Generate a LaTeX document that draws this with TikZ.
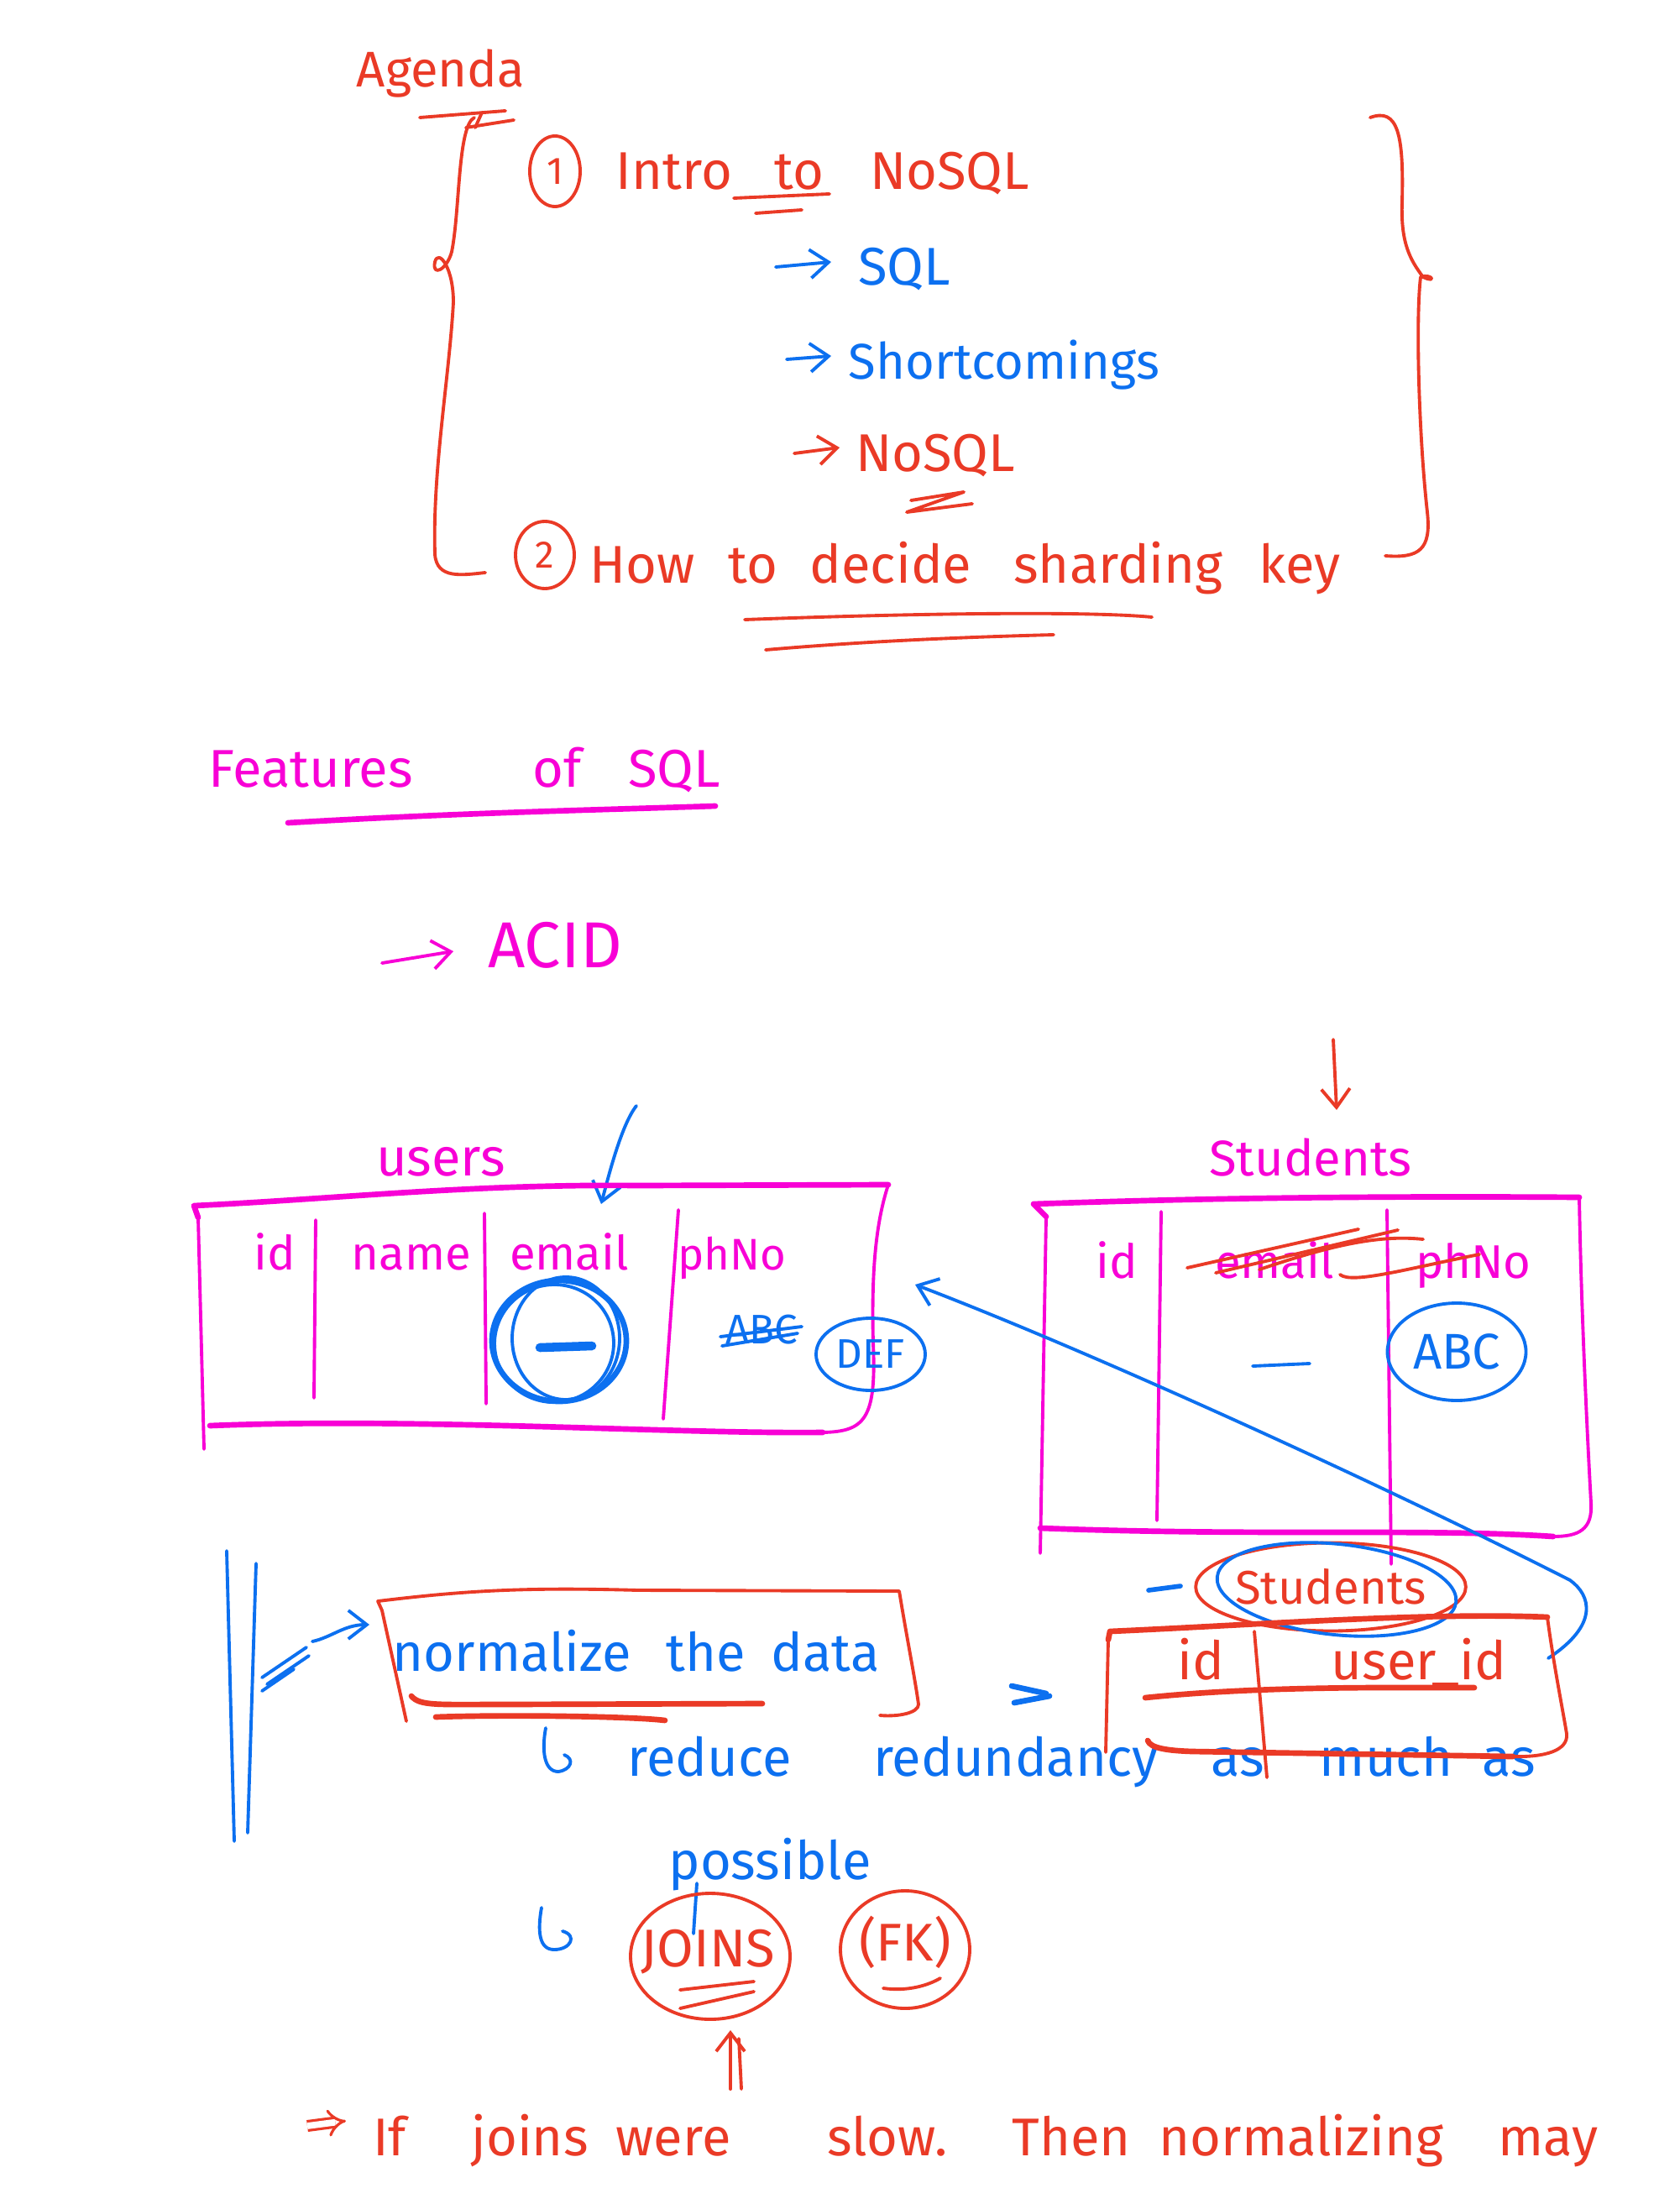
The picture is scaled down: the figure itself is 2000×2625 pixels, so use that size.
\documentclass[tikz,border=0pt]{standalone}
\usepackage{fontspec}
\setmainfont{Fira Sans}
\usetikzlibrary{arrows.meta,shapes.geometric}
\definecolor{inkred}{RGB}{234,58,38}
\definecolor{inkblue}{RGB}{12,112,240}
\definecolor{inkpink}{RGB}{248,0,214}

\begin{document}
\begin{tikzpicture}[x=0.1mm,y=-0.1mm,
  pen/.style={line width=1.1pt,line cap=round,line join=round},
  thick pen/.style={line width=1.9pt,line cap=round,line join=round},
  word/.style={anchor=base,inner sep=0pt,font=\fontsize{18}{22}\selectfont},
  small word/.style={word,font=\fontsize{16}{19}\selectfont},
  big word/.style={word,font=\fontsize{22}{26}\selectfont},
  barb/.style={-{Straight Barb[length=2.2mm,width=3.4mm]}},
  ring/.style={ellipse,draw,pen,inner sep=0pt},
]
\useasboundingbox (0,0) rectangle (2000,2625);
\fill[white] (0,0) rectangle (2000,2625);

% ---------------- Agenda ----------------
\node[word,text=inkred,font=\fontsize{17}{20}\selectfont] (agenda) at (525,104) {Agenda};
\draw[pen,inkred] (500,140) -- (602,132);
\draw[pen,inkred] (555,152) -- (612,143);
\draw[pen,inkred] (574,134) -- (566,152);

% left brace
\draw[pen,inkred] (565,140) .. controls (545,150) and (548,250) .. (538,300)
  .. controls (532,322) and (514,330) .. (518,312)
  .. controls (522,296) and (540,318) .. (540,360)
  .. controls (535,450) and (515,560) .. (518,660)
  .. controls (520,690) and (550,685) .. (578,682);
% right brace
\draw[pen,inkred] (1632,140) .. controls (1665,128) and (1672,160) .. (1670,240)
  .. controls (1668,290) and (1680,310) .. (1695,330)
  .. controls (1712,338) and (1705,325) .. (1692,330)
  .. controls (1686,380) and (1690,520) .. (1700,610)
  .. controls (1705,655) and (1690,665) .. (1650,662);

\node[ring,draw=inkred,text=inkred,font=\fontsize{13}{15}\selectfont,
  minimum width=6mm,minimum height=8.4mm] (one) at (661,204) {1};
\node[word,text=inkred] (intro) at (803,226) {Intro};
\node[word,text=inkred] (to) at (952,226) {to};
\node[word,text=inkred] (nosql) at (1131,226) {NoSQL};
\draw[pen,inkred] (874,236) -- (988,231);
\draw[pen,inkred] (900,254) -- (955,250);

\coordinate (a1s) at (924,318); \coordinate (a1e) at (990,312);
\draw[pen,inkblue,barb] (a1s) -- (a1e);
\node[word,text=inkblue] (sql) at (1077,340) {SQL};

\coordinate (a2s) at (937,428); \coordinate (a2e) at (990,424);
\draw[pen,inkblue,barb] (a2s) -- (a2e);
\node[word,text=inkblue,font=\fontsize{17}{20}\selectfont] (short) at (1196,452) {Shortcomings};

\coordinate (a3s) at (946,540); \coordinate (a3e) at (1000,533);
\draw[pen,inkred,barb] (a3s) -- (a3e);
\node[word,text=inkred] (nosqlb) at (1114,562) {NoSQL};
\draw[pen,inkred] (1085,596) -- (1148,586) -- (1080,610) -- (1158,600);

\node[ring,draw=inkred,text=inkred,font=\fontsize{13}{15}\selectfont,
  minimum width=7mm,minimum height=8mm] (two) at (649,661) {2};
\node[word,text=inkred] (how) at (765,694) {How};
\node[word,text=inkred] (tob) at (897,694) {to};
\node[word,text=inkred] (decide) at (1061,694) {decide};
\node[word,text=inkred] (sharding) at (1332,694) {sharding};
\node[word,text=inkred] (key) at (1548,694) {key};
\draw[pen,inkred] (887,738) .. controls (1100,730) and (1300,728) .. (1372,735);
\draw[pen,inkred] (912,774) .. controls (1050,762) and (1180,758) .. (1255,756);

% ---------------- Features of SQL ----------------
\node[word,text=inkpink] (features) at (370,937) {Features};
\node[word,text=inkpink] (of) at (664,937) {of};
\node[word,text=inkpink] (sqlb) at (803,937) {SQL};
\draw[thick pen,inkpink] (343,980) .. controls (550,968) and (700,965) .. (852,960);

\coordinate (a4s) at (455,1147); \coordinate (a4e) at (540,1133);
\draw[pen,inkpink,barb] (a4s) -- (a4e);
\node[big word,text=inkpink] (acid) at (661,1152) {ACID};

\coordinate (ra1) at (1588,1238); \coordinate (ra2) at (1592,1322);
\draw[pen,inkred,barb] (ra1) -- (ra2);

% ---------------- users table ----------------
\node[word,text=inkpink] (users) at (525,1400) {users};
\coordinate (ua) at (758,1317); \coordinate (ub) at (716,1434);
\draw[pen,inkblue,barb] (ua) .. controls (740,1340) and (725,1400) .. (ub);

\draw[thick pen,inkpink] (236,1450) -- (231,1436) .. controls (400,1428) and (560,1410) .. (760,1412) -- (1058,1411);
\draw[pen,inkpink] (1058,1411) .. controls (1042,1460) and (1038,1520) .. (1040,1600)
  .. controls (1044,1690) and (1030,1705) .. (980,1706);
\draw[thick pen,inkpink] (250,1698) .. controls (500,1688) and (800,1708) .. (980,1706);
\draw[pen,inkpink] (236,1450) -- (243,1726);
\draw[pen,inkpink] (376,1453) -- (374,1665);
\draw[pen,inkpink] (577,1445) -- (579,1672);
\draw[pen,inkpink] (808,1441) -- (790,1690);
\node[small word,text=inkpink] (uid) at (327,1512) {id};
\node[small word,text=inkpink] (uname) at (490,1512) {name};
\node[small word,text=inkpink] (uemail) at (678,1512) {email};
\node[small word,text=inkpink,font=\fontsize{15}{18}\selectfont] (uph) at (872,1512) {phNo};

\draw[thick pen,inkblue] (666,1597) ellipse [x radius=8mm,y radius=7.2mm];
\draw[pen,inkblue,rotate around={10:(660,1600)}] (660,1600) ellipse [x radius=7.1mm,y radius=7mm];
\draw[pen,inkblue] (674,1594) ellipse [x radius=6.4mm,y radius=7.3mm];
\draw[line width=3pt,inkblue,line cap=round] (643,1605) -- (705,1603);

\node[small word,text=inkblue,font=\fontsize{14}{16}\selectfont] (abcold) at (907,1600) {ABC};
\draw[pen,inkblue] (858,1592) -- (955,1580);
\draw[pen,inkblue] (860,1603) -- (950,1588);
\node[ring,draw=inkblue,text=inkblue,font=\fontsize{14}{16}\selectfont,
  minimum width=13mm,minimum height=8.6mm] (def) at (1037,1613) {DEF};

% ---------------- Students table ----------------
\node[small word,text=inkpink,font=\fontsize{17}{20}\selectfont] (students) at (1561,1400) {Students};
\draw[thick pen,inkpink] (1246,1449) -- (1231,1434) .. controls (1400,1428) and (1600,1424) .. (1881,1426);
\draw[pen,inkpink] (1881,1426) .. controls (1883,1550) and (1890,1700) .. (1895,1790)
  .. controls (1897,1822) and (1880,1830) .. (1850,1830);
\draw[thick pen,inkpink] (1239,1820) .. controls (1500,1830) and (1700,1820) .. (1850,1830);
\draw[pen,inkpink] (1246,1449) -- (1239,1850);
\draw[pen,inkpink] (1383,1443) -- (1378,1811);
\draw[pen,inkpink] (1652,1441) -- (1657,1863);
\node[small word,text=inkpink] (sid) at (1330,1522) {id};
\node[small word,text=inkpink] (semail) at (1518,1522) {email};
\node[small word,text=inkpink] (sph) at (1755,1522) {phNo};
\draw[pen,inkred] (1414,1510) -- (1618,1464);
\draw[pen,inkred] (1448,1516) -- (1665,1465);
\draw[pen,inkred] (1500,1512) .. controls (1580,1485) and (1640,1470) .. (1695,1476);
\draw[pen,inkred] (1596,1518) .. controls (1610,1530) and (1680,1510) .. (1762,1494);
\draw[pen,inkblue] (1492,1627) -- (1560,1624);
\node[ring,draw=inkblue,text=inkblue,font=\fontsize{17}{20}\selectfont,
  minimum width=16.5mm,minimum height=11.6mm] (abc) at (1735,1610) {ABC};

% long blue connector
\coordinate (lt) at (1844,1975); \coordinate (lh) at (1090,1530);
\draw[pen,inkblue,barb] (lt) .. controls (1905,1935) and (1895,1900) .. (1870,1882)
  .. controls (1650,1770) and (1300,1610) .. (lh);

% ---------------- normalize ----------------
\draw[pen,inkblue] (270,1847) -- (279,2193);
\draw[pen,inkblue] (305,1862) -- (295,2183);
\draw[pen,inkblue] (312,1998) -- (365,1962);
\draw[pen,inkblue] (318,2006) -- (368,1972);
\draw[pen,inkblue] (312,2014) -- (350,1988);
\coordinate (na) at (372,1955); \coordinate (nb) at (440,1935);
\draw[pen,inkblue,barb] (na) .. controls (395,1950) and (410,1935) .. (nb);

\draw[pen,inkred] (455,1918) -- (450,1907) .. controls (550,1895) and (620,1890) .. (760,1894) -- (1071,1895)
  .. controls (1080,1950) and (1090,2000) .. (1094,2030)
  .. controls (1094,2040) and (1070,2045) .. (1048,2043);
\draw[pen,inkred] (455,1918) -- (484,2050);
\node[word,text=inkblue] (normalize) at (610,1990) {normalize};
\node[word,text=inkblue] (the) at (841,1990) {the};
\node[word,text=inkblue] (data) at (983,1990) {data};
\draw[thick pen,inkred] (490,2020) .. controls (500,2032) and (520,2030) .. (600,2030) -- (908,2029);
\draw[thick pen,inkred] (519,2045) .. controls (600,2042) and (750,2044) .. (792,2049);

\draw[pen,inkblue] (650,2058) .. controls (645,2085) and (648,2110) .. (665,2110)
  .. controls (680,2108) and (685,2095) .. (672,2090);
\node[word,text=inkblue] (reduce) at (845,2115) {reduce};
\node[word,text=inkblue] (redundancy) at (1210,2115) {redundancy};
\node[word,text=inkblue] (as) at (1474,2115) {as};
\node[word,text=inkblue] (much) at (1651,2115) {much};
\node[word,text=inkblue] (asb) at (1797,2115) {as};

% ---------------- Students (id, user_id) ----------------
\draw[pen,inkblue,line width=1.6pt] (1368,1894) -- (1406,1889);
\node[ring,draw=inkred,text=inkred,font=\fontsize{16}{19}\selectfont,
  minimum width=30mm,minimum height=10.5mm] (studb) at (1585,1890) {Students};
\draw[pen,inkblue,rotate around={-6:(1592,1893)}] (1592,1893) ellipse [x radius=14.3mm,y radius=5.4mm];

\draw[thick pen,inkblue] (1205,2008) -- (1246,2017);
\draw[thick pen,inkblue] (1208,2028) -- (1250,2020);

\draw[thick pen,inkred] (1320,1953) -- (1322,1943) .. controls (1500,1935) and (1700,1920) .. (1843,1926);
\draw[pen,inkred] (1843,1926) .. controls (1850,1980) and (1862,2040) .. (1866,2065)
  .. controls (1868,2085) and (1840,2093) .. (1802,2092);
\draw[thick pen,inkred] (1367,2073) .. controls (1370,2082) and (1390,2085) .. (1420,2086) -- (1802,2092);
\draw[pen,inkred] (1320,1953) -- (1317,2087);
\draw[pen,inkred] (1494,1943) -- (1509,2117);
\node[word,text=inkred] (tid) at (1430,2000) {id};
\node[word,text=inkred] (tuid) at (1690,2000) {user\_id};
\draw[thick pen,inkred] (1364,2022) .. controls (1500,2008) and (1650,2010) .. (1756,2010);

% ---------------- JOINS / FK ----------------
\node[word,text=inkblue] (possible) at (917,2238) {possible};
\draw[pen,inkblue] (830,2243) -- (826,2303);
\draw[pen,inkblue] (645,2272) .. controls (640,2300) and (642,2322) .. (660,2322)
  .. controls (680,2322) and (688,2305) .. (670,2300);

\node[ring,draw=inkred,minimum width=19mm,minimum height=15mm] (joins) at (846,2330) {};
\node[word,text=inkred] (joinst) at (843,2342) {JOINS};
\draw[pen,inkred] (810,2370) -- (898,2360);
\draw[pen,inkred] (810,2392) -- (898,2372);
\node[ring,draw=inkred,minimum width=15.4mm,minimum height=14mm] (fk) at (1078,2322) {};
\node[word,text=inkred] (fkt) at (1078,2335) {(FK)};
\draw[pen,inkred] (1052,2368) .. controls (1080,2372) and (1105,2365) .. (1120,2356);

\coordinate (ja) at (870,2488); \coordinate (jb) at (870,2418);
\draw[pen,inkred,barb] (ja) -- (jb);
\draw[pen,inkred] (883,2488) -- (880,2428);

% ---------------- closing remark ----------------
\coordinate (ia) at (366,2532); \coordinate (ib) at (412,2526);
\draw[inkred,line width=0.9pt,double distance=2.2pt,-{Implies}] (ia) -- (ib);
\node[word,text=inkred] (if) at (464,2567) {If};
\node[word,text=inkred] (joinsb) at (631,2567) {joins};
\node[word,text=inkred] (were) at (802,2567) {were};
\node[word,text=inkred] (slow) at (1057,2567) {slow.};
\node[word,text=inkred] (then) at (1276,2567) {Then};
\node[word,text=inkred] (normalizing) at (1550,2567) {normalizing};
\node[word,text=inkred] (may) at (1844,2567) {may};
\end{tikzpicture}
\end{document}
